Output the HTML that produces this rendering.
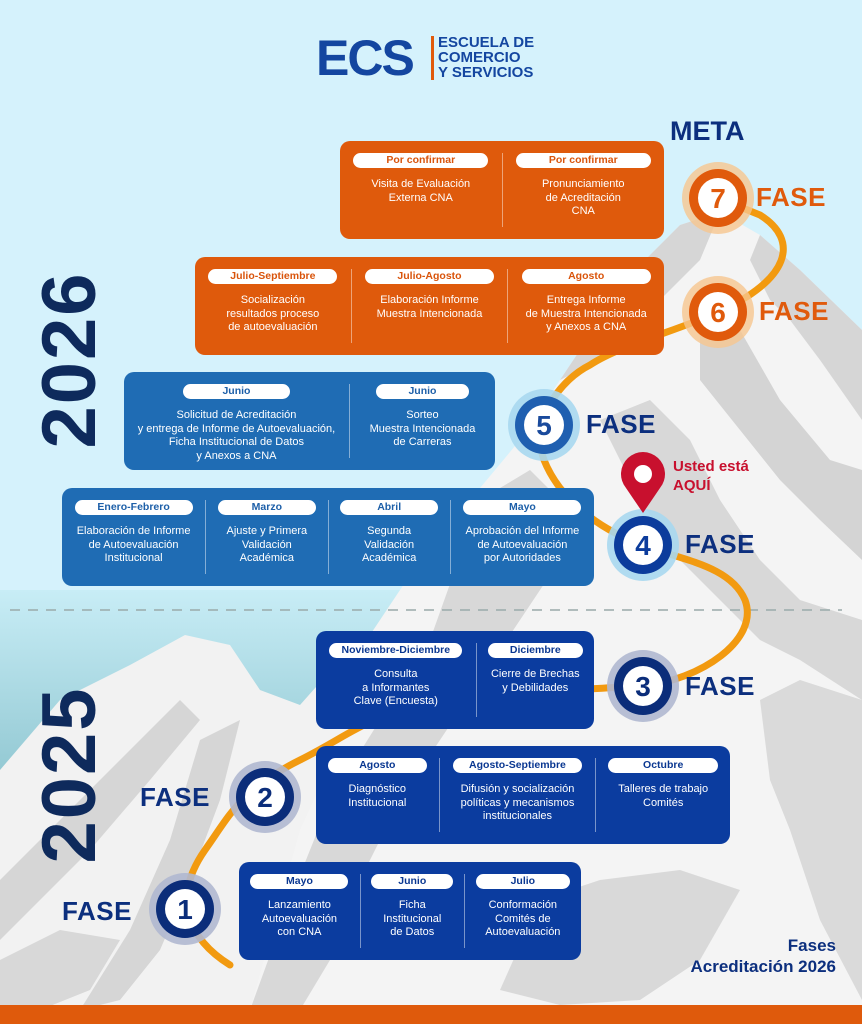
<!DOCTYPE html>
<html><head><meta charset="utf-8"><style>
*{margin:0;padding:0;box-sizing:border-box}
body{width:862px;height:1024px;overflow:hidden;position:relative;font-family:"Liberation Sans",sans-serif;background:#d5f2fc}
.abs{position:absolute}
.box{position:absolute;border-radius:10px;color:#fff;display:flex;padding:12px 0}
.col{flex:1;display:flex;flex-direction:column;align-items:center;text-align:center;font-size:11px;line-height:13.5px;padding:0 6px;border-right:1px solid rgba(255,255,255,.45)}
.col:last-child{border-right:none}
.pill{background:#fff;border-radius:8px;font-weight:bold;font-size:10.5px;height:15px;line-height:15px;width:90%;margin-bottom:10px}
.or .pill{color:#d9540b}.b1 .pill{color:#1d5fa8}.b2 .pill{color:#0a3791}
.or{background:#df5a0c}.b1{background:#1f6cb4}.b2{background:#0b3c9f}
.fase{position:absolute;font-weight:bold;font-size:26px;color:#0c2f7e;letter-spacing:.5px}
.fo{color:#e05a0c}
.year{position:absolute;font-weight:900;font-size:76px;color:#0e2a5c;transform:rotate(-90deg);transform-origin:center;letter-spacing:2px}
</style></head><body>
<svg class="abs" style="left:0;top:0" width="862" height="1024">
<defs><linearGradient id="tg" x1="0" y1="0" x2="0" y2="1"><stop offset="0" stop-color="#c8edf6"/><stop offset="1" stop-color="#4f9aa6"/></linearGradient></defs>
<rect x="0" y="590" width="420" height="420" fill="url(#tg)"/>
<polygon points="862,330 800,270 760,235 720,212 680,225 640,265 600,320 560,380 520,440 470,500 420,560 380,620 340,680 300,760 260,860 230,1010 862,1010" fill="#f4f4f4"/>
<polygon points="0,770 60,700 130,665 185,635 230,645 260,690 300,705 340,660 360,700 300,830 250,1010 0,1010" fill="#f2f2f2"/>
<polygon points="720,212 680,225 640,265 600,320 560,380 600,360 640,320 670,290 700,260" fill="#d6d6d6"/>
<polygon points="760,235 800,270 862,330 862,420 820,360 790,320 770,300 750,260" fill="#d6d6d6"/>
<polygon points="700,300 740,330 780,400 830,460 862,470 862,560 820,520 780,480 740,430 700,380" fill="#d4d4d4"/>
<polygon points="600,420 650,400 690,440 720,500 760,560 800,600 862,620 862,700 800,660 760,640 720,600 680,560 640,500" fill="#d8d8d8"/>
<polygon points="480,500 530,470 560,500 560,560 520,620 480,680 440,740 400,800 360,880 330,960 300,1010 250,1010 290,900 330,800 380,720 430,640" fill="#d8d8d8"/>
<polygon points="760,700 800,680 862,700 862,1000 820,920 790,830 770,780" fill="#dadada"/>
<polygon points="0,880 60,820 120,760 180,700 200,720 150,780 90,850 40,900 0,940" fill="#d6d6d6"/>
<polygon points="200,740 240,720 220,800 190,880 160,950 120,1000 80,1010 130,930 170,840" fill="#d6d6d6"/>
<polygon points="0,960 60,930 120,940 90,990 40,1010 0,1010" fill="#d8d8d8"/>
<polygon points="540,900 600,880 680,870 740,890 700,960 640,1000 560,1005 500,990" fill="#d9d9d9"/>
<line x1="10" y1="610" x2="842" y2="610" stroke="#9aa" stroke-width="1.5" stroke-dasharray="10,8"/>
<path d="M230,965 C190,940 170,900 205,850 C230,815 240,790 300,760 C350,735 360,720 420,706 C520,690 580,690 643,686 C700,680 760,640 745,600 C730,565 680,560 643,545 C600,530 560,500 544,460 C530,420 560,380 590,365 C620,345 680,330 718,312 C790,280 800,240 760,215 L718,198" fill="none" stroke="#f29a10" stroke-width="7" stroke-linecap="round"/>
<g font-family="Liberation Sans" font-weight="bold" font-size="28" text-anchor="middle">
<g transform="translate(718,198)"><circle r="36" fill="#f6c68e" opacity=".8"/><circle r="29" fill="#e05a0c"/><circle r="20" fill="#fff"/><text y="10" fill="#e05a0c">7</text></g>
<g transform="translate(718,312)"><circle r="36" fill="#f6c68e" opacity=".8"/><circle r="29" fill="#e05a0c"/><circle r="20" fill="#fff"/><text y="10" fill="#e05a0c">6</text></g>
<g transform="translate(544,425)"><circle r="36" fill="#a8d8f0" opacity=".9"/><circle r="29" fill="#1f5fb0"/><circle r="20" fill="#fff"/><text y="10" fill="#1a4a9c">5</text></g>
<g transform="translate(643,545)"><circle r="36" fill="#a8d8f0" opacity=".9"/><circle r="29" fill="#0c3c9c"/><circle r="20" fill="#fff"/><text y="10" fill="#0c3c9c">4</text></g>
<g transform="translate(643,686)"><circle r="36" fill="#b0b8d0" opacity=".9"/><circle r="29" fill="#0b2d7a"/><circle r="20" fill="#fff"/><text y="10" fill="#0b2d7a">3</text></g>
<g transform="translate(265,797)"><circle r="36" fill="#b0b8d0" opacity=".9"/><circle r="29" fill="#0b2d7a"/><circle r="20" fill="#fff"/><text y="10" fill="#0b2d7a">2</text></g>
<g transform="translate(185,909)"><circle r="36" fill="#b0b8d0" opacity=".9"/><circle r="29" fill="#0b2d7a"/><circle r="20" fill="#fff"/><text y="10" fill="#0b2d7a">1</text></g>
</g>
<path d="M643,513 L626,488 A22,22 0 1,1 660,488 Z" fill="#c8102e"/>
<circle cx="643" cy="474" r="9" fill="#fff"/>
<rect x="0" y="1005" width="862" height="19" fill="#df5a0c"/>
</svg>
<div class="abs" style="left:316px;top:33px;font-weight:900;font-size:50px;color:#1446a0;letter-spacing:-2px;line-height:50px">ECS</div>
<div class="abs" style="left:431px;top:36px;width:3px;height:44px;background:#e05a0c"></div>
<div class="abs" style="left:438px;top:35px;font-weight:bold;font-size:15px;line-height:15px;color:#1446a0">ESCUELA DE<br>COMERCIO<br>Y SERVICIOS</div>
<div class="abs" style="left:670px;top:116px;font-weight:bold;font-size:27px;color:#0c2f7e">META</div>
<div class="year" style="left:-20px;top:320px;width:180px;height:80px;line-height:80px;text-align:center">2026</div>
<div class="year" style="left:-20px;top:735px;width:180px;height:80px;line-height:80px;text-align:center">2025</div>
<div class="fase fo" style="left:756px;top:182px">FASE</div>
<div class="fase fo" style="left:759px;top:296px">FASE</div>
<div class="fase" style="left:586px;top:409px">FASE</div>
<div class="fase" style="left:685px;top:529px">FASE</div>
<div class="fase" style="left:685px;top:671px">FASE</div>
<div class="fase" style="left:140px;top:782px">FASE</div>
<div class="fase" style="left:62px;top:896px">FASE</div>
<div class="abs" style="left:673px;top:457px;font-weight:bold;font-size:15px;line-height:19px;color:#c8102e">Usted está<br>AQUÍ</div>
<div class="abs" style="left:640px;top:935px;font-weight:bold;font-size:17px;line-height:21px;color:#0c2f7e;text-align:right;width:196px">Fases<br>Acreditación 2026</div>

<div class="box or" style="left:340px;top:141px;width:324px;height:98px"><div class="col"><div class="pill">Por confirmar</div>Visita de Evaluación<br>Externa CNA</div><div class="col"><div class="pill">Por confirmar</div>Pronunciamiento<br>de Acreditación<br>CNA</div></div>
<div class="box or" style="left:195px;top:257px;width:469px;height:98px"><div class="col"><div class="pill">Julio-Septiembre</div>Socialización<br>resultados proceso<br>de autoevaluación</div><div class="col"><div class="pill">Julio-Agosto</div>Elaboración Informe<br>Muestra Intencionada</div><div class="col"><div class="pill">Agosto</div>Entrega Informe<br>de Muestra Intencionada<br>y Anexos a CNA</div></div>
<div class="box b1" style="left:124px;top:372px;width:371px;height:98px"><div class="col" style="flex:1.6"><div class="pill" style="width:50%">Junio</div>Solicitud de Acreditación<br>y entrega de Informe de Autoevaluación,<br>Ficha Institucional de Datos<br>y Anexos a CNA</div><div class="col"><div class="pill" style="width:70%">Junio</div>Sorteo<br>Muestra Intencionada<br>de Carreras</div></div>
<div class="box b1" style="left:62px;top:488px;width:532px;height:98px"><div class="col" style="flex:1.2"><div class="pill">Enero-Febrero</div>Elaboración de Informe<br>de Autoevaluación<br>Institucional</div><div class="col"><div class="pill">Marzo</div>Ajuste y Primera<br>Validación<br>Académica</div><div class="col"><div class="pill">Abril</div>Segunda<br>Validación<br>Académica</div><div class="col" style="flex:1.2"><div class="pill">Mayo</div>Aprobación del Informe<br>de Autoevaluación<br>por Autoridades</div></div>
<div class="box b2" style="left:316px;top:631px;width:278px;height:98px"><div class="col" style="flex:1.4"><div class="pill">Noviembre-Diciembre</div>Consulta<br>a Informantes<br>Clave (Encuesta)</div><div class="col"><div class="pill">Diciembre</div>Cierre de Brechas<br>y Debilidades</div></div>
<div class="box b2" style="left:316px;top:746px;width:414px;height:98px"><div class="col"><div class="pill">Agosto</div>Diagnóstico<br>Institucional</div><div class="col" style="flex:1.3"><div class="pill">Agosto-Septiembre</div>Difusión y socialización<br>políticas y mecanismos<br>institucionales</div><div class="col" style="flex:1.1"><div class="pill">Octubre</div>Talleres de trabajo<br>Comités</div></div>
<div class="box b2" style="left:239px;top:862px;width:342px;height:98px"><div class="col" style="flex:1.2"><div class="pill">Mayo</div>Lanzamiento<br>Autoevaluación<br>con CNA</div><div class="col"><div class="pill">Junio</div>Ficha<br>Institucional<br>de Datos</div><div class="col" style="flex:1.15"><div class="pill">Julio</div>Conformación<br>Comités de<br>Autoevaluación</div></div>
</body></html>
